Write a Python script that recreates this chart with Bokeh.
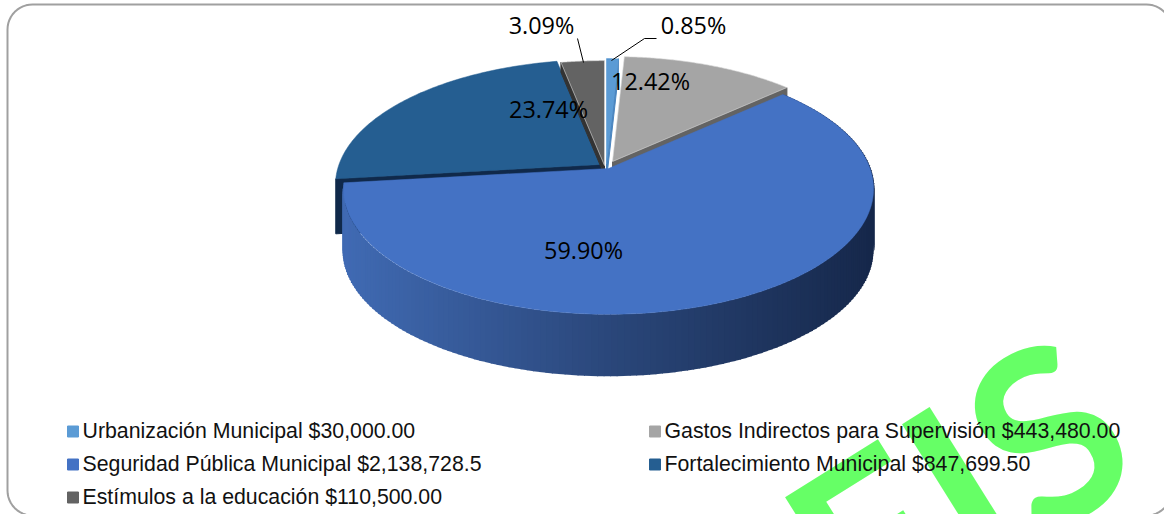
import math
from bokeh.plotting import figure
from bokeh.models import Range1d
from bokeh.core.properties import value
from bokeh.embed import file_html
from bokeh.resources import INLINE

# ---- data ----
categories = ["Urbanización Municipal", "Gastos Indirectos para Supervisión",
              "Seguridad Pública Municipal", "Fortalecimiento Municipal",
              "Estímulos a la educación"]
amounts = [30000.00, 443480.00, 2138728.5, 847699.50, 110500.00]
amount_labels = ["$30,000.00", "$443,480.00", "$2,138,728.5", "$847,699.50", "$110,500.00"]
percent_labels = ["0.85%", "12.42%", "59.90%", "23.74%", "3.09%"]
top_colors = ["#5b9bd5", "#a5a5a5", "#4472c4", "#255e91", "#636363"]
face_colors = ["#4a85bf", "#636363", "#2f4f88", "#10294a", "#333333"]

# ---- layout / projection of the tilted pie ----
A, B, K = 261.5, 122.0, 0.163     # perspective disk -> screen
apex = [(606, 163), (612, 161), (608, 168), (600, 164), (604, 165)]
DEPTH = 62
label_xy = [(693, 24), (650, 80), (583, 249), (548, 108), (541, 24)]

total = sum(amounts)
edges = [0.0]
for a in amounts:
    edges.append(edges[-1] + a / total * 360)


def rim(i, theta):
    t = math.radians(theta)
    u, v = math.sin(t), math.cos(t)
    w = 1 + K * v
    return apex[i][0] + A * u / w, apex[i][1] - B * v / w


def arc(i, n=90):
    a0, a1 = edges[i], edges[i + 1]
    pts = [rim(i, a0 + (a1 - a0) * j / n) for j in range(n + 1)]
    return [p[0] for p in pts], [p[1] for p in pts]


def mix(stops, x):
    for (x0, c0), (x1, c1) in zip(stops, stops[1:]):
        if x <= x1:
            f = max(0.0, (x - x0) / (x1 - x0))
            return "#%02x%02x%02x" % tuple(round(a + (b - a) * f) for a, b in zip(c0, c1))
    return "#%02x%02x%02x" % stops[-1][1]


p = figure(width=1164, height=514, x_range=Range1d(0, 1164), y_range=Range1d(514, 0),
           output_backend="svg", toolbar_location=None, min_border=0,
           x_axis_location=None, y_axis_location=None, outline_line_color=None,
           background_fill_color="white", border_fill_color="white")
p.grid.visible = False

# watermark, under everything else
p.text([680], [657], text=["REIS"], angle=[32], angle_units="deg",
       text_font=value("Lato"), text_font_style="bold", text_font_size="240px",
       text_color="#66ff66", text_baseline="alphabetic", text_align="left")

# rounded frame
L, R, T, Bt, r = 7, 1171, 4, 515, 25
fx, fy = [], []
for cx, cy, a0 in [(R - r, T + r, -90), (R - r, Bt - r, 0), (L + r, Bt - r, 90), (L + r, T + r, 180)]:
    for j in range(13):
        a = math.radians(a0 + 90 * j / 12)
        fx.append(cx + r * math.cos(a))
        fy.append(cy + r * math.sin(a))
p.patch(fx + fx[:1], fy + fy[:1], fill_alpha=0, line_color="#a0a0a0", line_width=2)

# dark-blue slice: side wall, then top
GB, DB, UR, GR, ES = 2, 3, 0, 1, 4
dx, dy = arc(DB)
c = rim(DB, edges[DB])
p.patch([apex[DB][0], c[0], c[0], apex[DB][0]],
        [apex[DB][1], c[1], c[1] + 55, apex[DB][1] + 55], color=face_colors[DB])
p.patch([apex[DB][0]] + dx, [apex[DB][1]] + dy, fill_color=top_colors[DB], line_color=top_colors[DB], line_width=0.5)

# grey slices and their cut faces
for i, d in [(ES, 10), (UR, 16), (GR, 10)]:
    corner = rim(i, edges[i] if i == ES else edges[i + 1])
    p.patch([apex[i][0], corner[0], corner[0], apex[i][0]],
            [apex[i][1], corner[1], corner[1] + d, apex[i][1] + d], color=face_colors[i])
    ax, ay = arc(i)
    p.patch([apex[i][0]] + ax, [apex[i][1]] + ay, fill_color=top_colors[i],
            line_color="#d9d9d9" if i != UR else top_colors[i], line_width=0.6)

# big slice wall with a horizontal shading, then its top
stops = [(345, (0x40, 0x6a, 0xb3)), (600, (0x2b, 0x48, 0x7c)), (870, (0x16, 0x28, 0x4b))]
bx, by = arc(GB, 180)
for j in range(len(bx) - 1):
    col = mix(stops, (bx[j] + bx[j + 1]) / 2)
    p.patch([bx[j], bx[j + 1] + (1 if bx[j + 1] > bx[j] else -1), bx[j + 1] + (1 if bx[j + 1] > bx[j] else -1), bx[j]],
            [by[j], by[j + 1], by[j + 1] + DEPTH, by[j] + DEPTH], color=col, line_width=0)
p.patch([apex[GB][0]] + bx, [apex[GB][1]] + by, color=top_colors[GB], line_width=0.5)

# percentage labels
p.text([q[0] for q in label_xy], [q[1] for q in label_xy], text=percent_labels,
       text_font=value("Open Sans"), text_font_size="23.4px", text_color="black",
       text_align="center", text_baseline="middle")

# leader lines
p.line([577, 583], [38, 62], color="black", line_width=1)
p.line([611, 644, 656], [60, 38, 38], color="black", line_width=1)

# legend
leg_order = [0, 2, 4, 1, 3]
leg_x = [67, 67, 67, 649, 649]
leg_y = [431, 464, 497, 431, 464]
for i, x, y in zip(leg_order, leg_x, leg_y):
    p.rect([x + 5.5], [y], width=11, height=11, color=top_colors[i])
    p.text([x + 15], [y - 1], text=[f"{categories[i]} {amount_labels[i]}"],
           text_font=value("Liberation Sans"), text_font_size="21.3px", text_color="#111111",
           text_align="left", text_baseline="middle")

open("out.html", "w").write(file_html(p, INLINE))
